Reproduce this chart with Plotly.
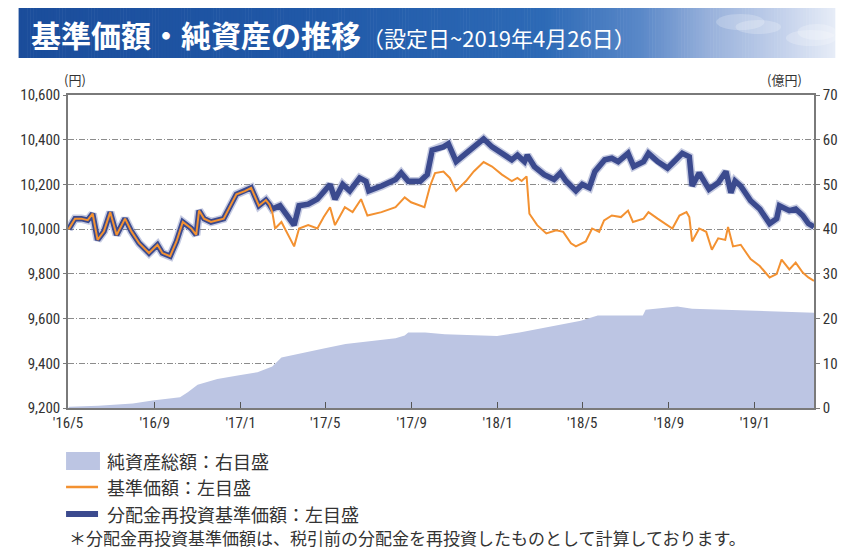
import plotly.graph_objects as go

# ---------------- data ----------------
shared_dates = ["2016-05-02", "2016-05-11", "2016-05-20", "2016-05-29", "2016-06-05", "2016-06-12",
                "2016-06-21", "2016-06-30", "2016-07-09", "2016-07-21", "2016-07-30", "2016-08-10",
                "2016-08-24", "2016-09-05", "2016-09-12", "2016-09-23", "2016-10-02", "2016-10-11",
                "2016-10-23", "2016-10-30", "2016-11-03", "2016-11-10", "2016-11-20", "2016-12-08",
                "2016-12-26", "2017-01-07", "2017-01-16", "2017-01-27", "2017-02-06", "2017-02-11"]
shared_values = [10000, 10047, 10047, 10040, 10069, 9952, 9990, 10076, 9974, 10047, 9990, 9937,
                 9893, 9930, 9893, 9879, 9945, 10032, 10003, 9974, 10083, 10047, 10032, 10047,
                 10156, 10170, 10185, 10105, 10130, 10110]

# 分配金再投資基準価額 after the first distribution
reinv_dates = ["2017-02-15", "2017-02-26", "2017-03-07", "2017-03-18", "2017-03-25", "2017-04-07",
               "2017-04-20", "2017-05-08", "2017-05-15", "2017-05-26", "2017-06-05", "2017-06-19",
               "2017-06-28", "2017-07-02", "2017-07-20", "2017-08-09", "2017-08-17", "2017-08-27",
               "2017-09-13", "2017-09-23", "2017-09-30", "2017-10-16", "2017-10-23", "2017-11-03",
               "2017-11-17", "2017-12-01", "2017-12-12", "2017-12-24", "2018-01-07", "2018-01-21",
               "2018-01-29", "2018-02-08", "2018-02-12", "2018-02-22", "2018-03-08", "2018-03-22",
               "2018-03-31", "2018-04-08", "2018-04-22", "2018-05-01", "2018-05-11", "2018-05-19",
               "2018-06-02", "2018-06-12", "2018-06-21", "2018-07-05", "2018-07-13", "2018-07-27",
               "2018-08-03", "2018-08-16", "2018-08-30", "2018-09-12", "2018-09-20", "2018-09-30",
               "2018-10-04", "2018-10-14", "2018-10-28", "2018-11-10", "2018-11-21", "2018-11-28",
               "2018-12-04", "2018-12-12", "2018-12-26", "2019-01-08", "2019-01-22", "2019-02-01",
               "2019-02-05", "2019-02-19", "2019-02-28", "2019-03-10", "2019-03-18", "2019-03-26"]
reinv_values = [10090, 10105, 10061, 10018, 10105, 10112, 10134, 10200, 10134, 10200, 10171, 10229,
                10214, 10171, 10193, 10222, 10251, 10214, 10214, 10244, 10353, 10368, 10382, 10302,
                10339, 10375, 10404, 10368, 10339, 10310, 10331, 10302, 10331, 10280, 10244, 10222,
                10251, 10215, 10171, 10200, 10185, 10258, 10310, 10317, 10302, 10339, 10280, 10302,
                10339, 10302, 10273, 10310, 10339, 10324, 10193, 10251, 10178, 10207, 10258, 10163,
                10215, 10193, 10127, 10090, 10025, 10047, 10105, 10083, 10090, 10061, 10025, 10010]

# 基準価額 after the first distribution
nav_dates = ["2017-02-15", "2017-02-19", "2017-02-28", "2017-03-10", "2017-03-18", "2017-03-25",
             "2017-04-07", "2017-04-20", "2017-04-29", "2017-05-08", "2017-05-15", "2017-05-29",
             "2017-06-09", "2017-06-21", "2017-06-30", "2017-07-20", "2017-08-09", "2017-08-22",
             "2017-08-31", "2017-09-19", "2017-09-27", "2017-10-04", "2017-10-16", "2017-10-25",
             "2017-11-03", "2017-11-17", "2017-11-28", "2017-12-12", "2017-12-24", "2018-01-07",
             "2018-01-21", "2018-01-29", "2018-02-04", "2018-02-11", "2018-02-15", "2018-02-26",
             "2018-03-11", "2018-03-25", "2018-04-04", "2018-04-15", "2018-04-22", "2018-05-06",
             "2018-05-15", "2018-05-25", "2018-06-01", "2018-06-12", "2018-06-25", "2018-07-05",
             "2018-07-12", "2018-07-27", "2018-08-03", "2018-08-16", "2018-08-30", "2018-09-06",
             "2018-09-16", "2018-09-26", "2018-09-30", "2018-10-04", "2018-10-14", "2018-10-24",
             "2018-11-01", "2018-11-10", "2018-11-20", "2018-11-24", "2018-12-01", "2018-12-12",
             "2018-12-26", "2019-01-08", "2019-01-22", "2019-02-01", "2019-02-08", "2019-02-19",
             "2019-02-28", "2019-03-10", "2019-03-18", "2019-03-26"]
nav_values = [10076, 10003, 10032, 9974, 9923, 10003, 10018, 10003, 10054, 10098, 10018, 10098,
              10076, 10134, 10061, 10076, 10098, 10142, 10120, 10098, 10193, 10251, 10258, 10229,
              10171, 10215, 10258, 10300, 10280, 10244, 10215, 10229, 10215, 10236, 10069, 10018,
              9981, 9995, 9988, 9937, 9923, 9945, 10003, 9988, 10039, 10061, 10054, 10083,
              10032, 10047, 10076, 10047, 10018, 10003, 10061, 10076, 10054, 9945, 10003, 9988,
              9908, 9959, 9952, 10010, 9923, 9930, 9866, 9835, 9784, 9799, 9864, 9820,
              9850, 9806, 9784, 9769]

# 純資産総額 (億円)
asset_dates = ["2016-05-02", "2016-06-13", "2016-08-01", "2016-08-29", "2016-10-07", "2016-10-18",
               "2016-11-01", "2016-11-29", "2016-12-30", "2017-01-25", "2017-02-15", "2017-02-28",
               "2017-04-29", "2017-05-30", "2017-08-09", "2017-08-22", "2017-08-27", "2017-09-20",
               "2017-10-18", "2017-12-31", "2018-02-01", "2018-03-08", "2018-04-29", "2018-05-23",
               "2018-07-26", "2018-07-30", "2018-09-13", "2018-10-04", "2019-01-11", "2019-03-22",
               "2019-03-26"]
asset_values = [0.3, 0.5, 1.0, 1.7, 2.4, 3.5, 5.2, 6.5, 7.3, 8.0, 9.3, 11.3,
                13.3, 14.3, 15.6, 16.2, 16.9, 16.9, 16.5, 16.1, 16.9, 18.0, 19.5, 20.7,
                20.7, 22.0, 22.7, 22.2, 21.7, 21.3, 21.3]

x_tick_dates = ["2016-05-01", "2016-09-01", "2017-01-01", "2017-05-01", "2017-09-01",
                "2018-01-01", "2018-05-01", "2018-09-01", "2019-01-01"]
x_tick_labels = ["'16/5", "'16/9", "'17/1", "'17/5", "'17/9", "'18/1", "'18/5", "'18/9", "'19/1"]

legend_labels = ["純資産総額：右目盛", "基準価額：左目盛", "分配金再投資基準価額：左目盛"]
title_text = "基準価額・純資産の推移"
subtitle_text = "（設定日~2019年4月26日）"
footnote_text = "＊分配金再投資基準価額は、税引前の分配金を再投資したものとして計算しております。"

# ---------------- styling ----------------
# the page body adds an 8px offset, so the figure is laid out in page pixels minus that offset
OFF = 8
W, H = 850 - OFF, 549 - OFF
PAGE_L, PAGE_R, PAGE_T, PAGE_B = 59, 829, 95, 408   # plot area in page pixels
ML, MR, MT = PAGE_L - OFF, 850 - PAGE_R, PAGE_T - OFF
MB = H - (PAGE_B - OFF)
PW, PH = PAGE_R - PAGE_L, PAGE_B - PAGE_T

def px(x):
    return (x - PAGE_L) / PW

def py(y):
    return (PAGE_B - y) / PH

AREA_C = "#bcc5e3"
NAV_C = "#f39131"
REINV_C = "#3b4a8e"
AXIS_C = "#7a7a7a"
TXT_C = "#333333"
NUM_FONT = "Liberation Sans Narrow, Roboto Condensed, DejaVu Sans Condensed, Liberation Sans, sans-serif"
JP_FONT = "Noto Sans CJK JP, sans-serif"

fig = go.Figure()
fig.add_trace(go.Scatter(x=asset_dates, y=asset_values, mode="lines", fill="tozeroy",
                         fillcolor=AREA_C, line=dict(width=0, color=AREA_C),
                         name=legend_labels[0], yaxis="y", showlegend=False))
fig.add_trace(go.Scatter(x=shared_dates + reinv_dates, y=shared_values + reinv_values, mode="lines",
                         line=dict(color="rgba(90,104,170,0.35)", width=8.5),
                         hoverinfo="skip", yaxis="y2", showlegend=False))
fig.add_trace(go.Scatter(x=shared_dates + reinv_dates, y=shared_values + reinv_values, mode="lines",
                         line=dict(color=REINV_C, width=5.5),
                         name=legend_labels[2], yaxis="y2", showlegend=False))
fig.add_trace(go.Scatter(x=shared_dates + nav_dates, y=shared_values + nav_values, mode="lines",
                         line=dict(color=NAV_C, width=2),
                         name=legend_labels[1], yaxis="y2", showlegend=False))

shapes = []
# banner gradient
stops = [(8, (0x1b, 0x4d, 0x9b)), (300, (0x20, 0x58, 0xa7)), (550, (0x2d, 0x6a, 0xb6)),
         (650, (0x5a, 0x88, 0xc8)), (720, (0x98, 0xb1, 0xdb)), (800, (0xc6, 0xd3, 0xec)),
         (850, (0xe6, 0xec, 0xf7))]

def color_at(x):
    for (x0, c0), (x1, c1) in zip(stops[:-1], stops[1:]):
        if x0 <= x <= x1:
            t = (x - x0) / (x1 - x0)
            return "rgb(%d,%d,%d)" % tuple(round(a + (b - a) * t) for a, b in zip(c0, c1))
    return "rgb(%d,%d,%d)" % stops[-1][1]

step = 3
for x0 in range(8, 851, step):
    x1 = min(x0 + step + 0.6, 851)
    shapes.append(dict(type="rect", xref="paper", yref="paper", x0=px(x0), x1=px(x1),
                       y0=py(58), y1=py(8), fillcolor=color_at(x0 + step / 2), line=dict(width=0),
                       layer="below"))
# soft clouds
for (cx0, cy0, cx1, cy1) in [(728, 14, 778, 30), (748, 20, 795, 34), (800, 30, 852, 46), (812, 24, 852, 40)]:
    shapes.append(dict(type="circle", xref="paper", yref="paper", x0=px(cx0), x1=px(cx1),
                       y0=py(cy1), y1=py(cy0), fillcolor="rgba(255,255,255,0.22)",
                       line=dict(width=0), layer="below"))

# legend swatches
shapes.append(dict(type="rect", xref="paper", yref="paper", x0=px(57), x1=px(92), y0=py(470), y1=py(452),
                   fillcolor=AREA_C, line=dict(width=0)))
shapes.append(dict(type="line", xref="paper", yref="paper", x0=px(57), x1=px(90), y0=py(487), y1=py(487),
                   line=dict(color=NAV_C, width=2.5)))
shapes.append(dict(type="line", xref="paper", yref="paper", x0=px(57), x1=px(90), y0=py(514), y1=py(514),
                   line=dict(color=REINV_C, width=6)))

annotations = [
    dict(text=title_text, x=px(19), y=py(34), xref="paper", yref="paper", xanchor="left", yanchor="middle",
         showarrow=False, font=dict(family=JP_FONT, size=30, color="white", weight="bold")),
    dict(text=subtitle_text, x=px(360), y=py(37), xref="paper", yref="paper", xanchor="left", yanchor="middle",
         showarrow=False, font=dict(family=JP_FONT, size=22, color="white")),
    dict(text="(円)", x=px(53), y=py(79), xref="paper", yref="paper", xanchor="left", yanchor="middle",
         showarrow=False, font=dict(family=JP_FONT, size=13, color=TXT_C)),
    dict(text="(億円)", x=px(819), y=py(79), xref="paper", yref="paper", xanchor="right", yanchor="middle",
         showarrow=False, font=dict(family=JP_FONT, size=13, color=TXT_C)),
    dict(text=legend_labels[0], x=px(97), y=py(461), xref="paper", yref="paper", xanchor="left",
         yanchor="middle", showarrow=False, font=dict(family=JP_FONT, size=18, color=TXT_C)),
    dict(text=legend_labels[1], x=px(97), y=py(487), xref="paper", yref="paper", xanchor="left",
         yanchor="middle", showarrow=False, font=dict(family=JP_FONT, size=18, color=TXT_C)),
    dict(text=legend_labels[2], x=px(97), y=py(514), xref="paper", yref="paper", xanchor="left",
         yanchor="middle", showarrow=False, font=dict(family=JP_FONT, size=18, color=TXT_C)),
    dict(text=footnote_text, x=px(58), y=py(537), xref="paper", yref="paper", xanchor="left",
         yanchor="middle", showarrow=False, font=dict(family=JP_FONT, size=17, color=TXT_C)),
]

fig.update_layout(
    width=W, height=H, margin=dict(l=ML, r=MR, t=MT, b=MB, pad=0),
    paper_bgcolor="white", plot_bgcolor="white", showlegend=False,
    shapes=shapes, annotations=annotations,
    xaxis=dict(type="date", range=["2016-05-01", "2019-03-26"], tickvals=x_tick_dates,
               ticktext=x_tick_labels, ticks="inside", ticklen=6, tickwidth=1.3, tickcolor="#555",
               showline=True, linecolor=AXIS_C, linewidth=1.5, mirror=True, showgrid=False,
               zeroline=False, tickangle=0, tickfont=dict(family=NUM_FONT, size=15, color=TXT_C)),
    yaxis=dict(range=[0, 70], dtick=10, side="right", showgrid=True, gridcolor="#8c8c8c",
               gridwidth=1, griddash="6px,2px,1px,2px", showline=True, linecolor=AXIS_C,
               linewidth=1.5, ticks="outside", ticklen=4, tickcolor=AXIS_C, zeroline=False,
               tickfont=dict(family=NUM_FONT, size=15, color=TXT_C)),
    yaxis2=dict(range=[9200, 10600], dtick=200, tickformat=",", side="left", overlaying="y",
                showgrid=False, showline=True, linecolor=AXIS_C, linewidth=1.5, ticks="outside",
                ticklen=3, tickcolor=AXIS_C, zeroline=False,
                tickfont=dict(family=NUM_FONT, size=15, color=TXT_C)),
)

fig.write_html("out.html")
